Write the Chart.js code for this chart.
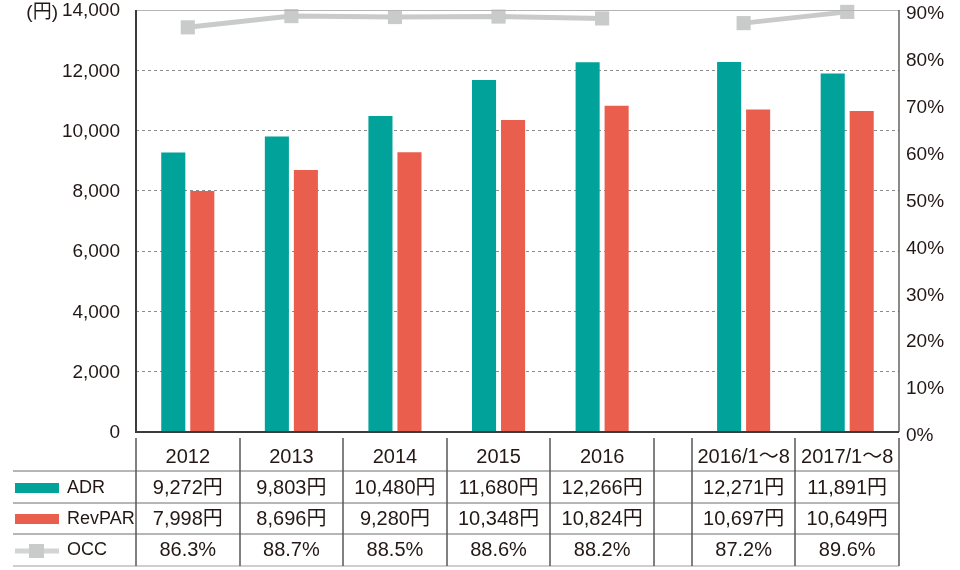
<!DOCTYPE html>
<html lang="ja">
<head>
<meta charset="utf-8">
<title>ADR・RevPAR・OCC</title>
<script src="https://cdn.jsdelivr.net/npm/chart.js@4.4.1/dist/chart.umd.min.js"></script>
<style>
  html, body { margin: 0; padding: 0; background: #fff; }
  #wrap { width: 960px; height: 570px; }
</style>
</head>
<body>
<div id="wrap"><canvas id="chart" width="960" height="570"></canvas></div>
<script>
// 年度（空文字は区切り列）
const categories = ['2012', '2013', '2014', '2015', '2016', '', '2016/1〜8', '2017/1〜8'];
const adrValues = [9272, 9803, 10480, 11680, 12266, null, 12271, 11891];
const revparValues = [7998, 8696, 9280, 10348, 10824, null, 10697, 10649];
const occValues = [86.3, 88.7, 88.5, 88.6, 88.2, null, 87.2, 89.6];
const yenTicks = [0, 2000, 4000, 6000, 8000, 10000, 12000, 14000];
const pctTicks = [0, 10, 20, 30, 40, 50, 60, 70, 80, 90];

const FONT = '"Liberation Sans", "Noto Sans CJK JP", sans-serif';
const TEXT = '#231815';
const TEAL = '#00a29a';
const RED = '#ea5e4d';
const GRAY = '#c9caca';
const LINE = '#595757';

// 列の位置（区切り列だけ幅を狭くする）
const GAP_WIDTH = 0.366;
const colStart = [];
const colEnd = [];
let edge = 0;
categories.forEach(c => {
  colStart.push(edge);
  edge += c === '' ? GAP_WIDTH : 1;
  colEnd.push(edge);
});
const colCenter = colStart.map((s, i) => (s + colEnd[i]) / 2);
const xMax = edge;

// 棒は空の列を除く（幅の計算に入らないように）、線は空の列で途切れさせる
const barPoints = values => values
  .map((v, i) => ({ x: colCenter[i], y: v }))
  .filter(p => p.y !== null);
const linePoints = values => values.map((v, i) => ({ x: colCenter[i], y: v }));

// 下の表・枠線・単位
const tablePlugin = {
  id: 'dataTable',
  afterDraw(chart) {
    const { ctx, chartArea: area, scales: { x } } = chart;
    const b = area.bottom;
    ctx.save();

    // 枠
    ctx.strokeStyle = '#b5b5b6';
    ctx.lineWidth = 1;
    ctx.beginPath();
    ctx.moveTo(area.left, area.top + 0.5);
    ctx.lineTo(area.right, area.top + 0.5);
    ctx.stroke();
    ctx.strokeStyle = '#3e3a39';
    ctx.lineWidth = 1.2;
    ctx.beginPath();
    ctx.moveTo(area.right, area.top);
    ctx.lineTo(area.right, b);
    ctx.stroke();
    ctx.lineWidth = 2;
    ctx.beginPath();
    ctx.moveTo(area.left, area.top);
    ctx.lineTo(area.left, b);
    ctx.lineTo(area.right, b);
    ctx.stroke();

    // 単位
    ctx.fillStyle = TEXT;
    ctx.font = '19px ' + FONT;
    ctx.textAlign = 'right';
    ctx.textBaseline = 'middle';
    ctx.fillText('(円)', 58, area.top + 3);

    // 表の罫線
    const rowLines = [b + 39, b + 71, b + 102, b + 134];
    ctx.strokeStyle = '#6f6f6f';
    ctx.lineWidth = 1.2;
    rowLines.forEach((y, i) => {
      if (i === rowLines.length - 1) ctx.strokeStyle = '#9fa0a0';
      ctx.beginPath();
      ctx.moveTo(13, y);
      ctx.lineTo(area.right, y);
      ctx.stroke();
    });
    ctx.strokeStyle = LINE;
    ctx.lineWidth = 1.5;
    const edges = new Set();
    colStart.forEach((s, i) => { edges.add(s); edges.add(colEnd[i]); });
    edges.forEach(v => {
      const px = Math.round(x.getPixelForValue(v));
      ctx.beginPath();
      ctx.moveTo(px, b + 6);
      ctx.lineTo(px, b + 134);
      ctx.stroke();
    });

    // 見出しと数値
    const rowY = [b + 25, b + 56, b + 87, b + 118];
    const rows = [
      categories,
      adrValues.map(v => v === null ? '' : v.toLocaleString('en-US') + '円'),
      revparValues.map(v => v === null ? '' : v.toLocaleString('en-US') + '円'),
      occValues.map(v => v === null ? '' : v.toFixed(1) + '%')
    ];
    ctx.fillStyle = TEXT;
    ctx.textAlign = 'center';
    ctx.font = '20px ' + FONT;
    rows.forEach((texts, r) => {
      texts.forEach((t, i) => {
        if (t) ctx.fillText(t, x.getPixelForValue(colCenter[i]), rowY[r]);
      });
    });

    // 凡例
    ctx.fillStyle = TEAL;
    ctx.fillRect(15, rowY[1] - 5, 44, 10);
    ctx.fillStyle = RED;
    ctx.fillRect(15, rowY[2] - 5, 44, 10);
    ctx.strokeStyle = '#d3d4d4';
    ctx.lineWidth = 5;
    ctx.beginPath();
    ctx.moveTo(15, rowY[3] + 1);
    ctx.lineTo(59, rowY[3] + 1);
    ctx.stroke();
    ctx.fillStyle = GRAY;
    ctx.fillRect(29, rowY[3] - 6, 15, 14);

    ctx.fillStyle = TEXT;
    ctx.textAlign = 'left';
    ctx.font = '18px ' + FONT;
    chart.data.datasets.forEach((ds, i) => ctx.fillText(ds.label, 67, rowY[i + 1]));
    ctx.restore();
  }
};

new Chart(document.getElementById('chart'), {
  type: 'bar',
  data: {
    datasets: [
      {
        label: 'ADR',
        data: barPoints(adrValues),
        backgroundColor: TEAL,
        yAxisID: 'y',
        categoryPercentage: 0.56,
        barPercentage: 0.83,
        order: 2
      },
      {
        label: 'RevPAR',
        data: barPoints(revparValues),
        backgroundColor: RED,
        yAxisID: 'y',
        categoryPercentage: 0.56,
        barPercentage: 0.83,
        order: 2
      },
      {
        type: 'line',
        label: 'OCC',
        data: linePoints(occValues),
        yAxisID: 'y1',
        borderColor: GRAY,
        backgroundColor: GRAY,
        borderWidth: 5,
        pointStyle: 'rect',
        pointRadius: 10,
        pointBorderWidth: 0,
        spanGaps: false,
        clip: false,
        order: 1
      }
    ]
  },
  options: {
    responsive: false,
    animation: false,
    layout: { padding: { top: 10, bottom: 138, left: 0, right: 0 } },
    plugins: { legend: { display: false }, tooltip: { enabled: false } },
    scales: {
      x: {
        type: 'linear',
        display: false,
        offset: false,
        min: 0,
        max: xMax,
        afterBuildTicks: scale => {
          scale.ticks = colCenter.filter((c, i) => categories[i] !== '').map(v => ({ value: v }));
        }
      },
      y: {
        position: 'left',
        min: 0,
        max: 14000,
        afterBuildTicks: scale => { scale.ticks = yenTicks.map(v => ({ value: v })); },
        afterFit: scale => { scale.width = 136; scale.paddingTop = 0; scale.paddingBottom = 0; },
        border: { display: false, dash: [3, 3] },
        grid: {
          drawTicks: false,
          lineWidth: 1,
          color: c => (c.tick && (c.tick.value === 0 || c.tick.value === 14000)) ? 'rgba(0,0,0,0)' : '#8c8c8c'
        },
        ticks: {
          padding: 16,
          labelOffset: 1,
          color: TEXT,
          font: { family: FONT, size: 19 },
          callback: v => v.toLocaleString('en-US')
        }
      },
      y1: {
        position: 'right',
        min: 0,
        max: 90,
        afterBuildTicks: scale => { scale.ticks = pctTicks.map(v => ({ value: v })); },
        afterFit: scale => { scale.width = 61; scale.paddingTop = 0; scale.paddingBottom = 0; },
        border: { display: false },
        grid: { display: false, drawTicks: false },
        ticks: {
          padding: 7,
          labelOffset: 4,
          color: TEXT,
          font: { family: FONT, size: 19 },
          callback: v => v + '%'
        }
      }
    }
  },
  plugins: [tablePlugin]
});
</script>
</body>
</html>
